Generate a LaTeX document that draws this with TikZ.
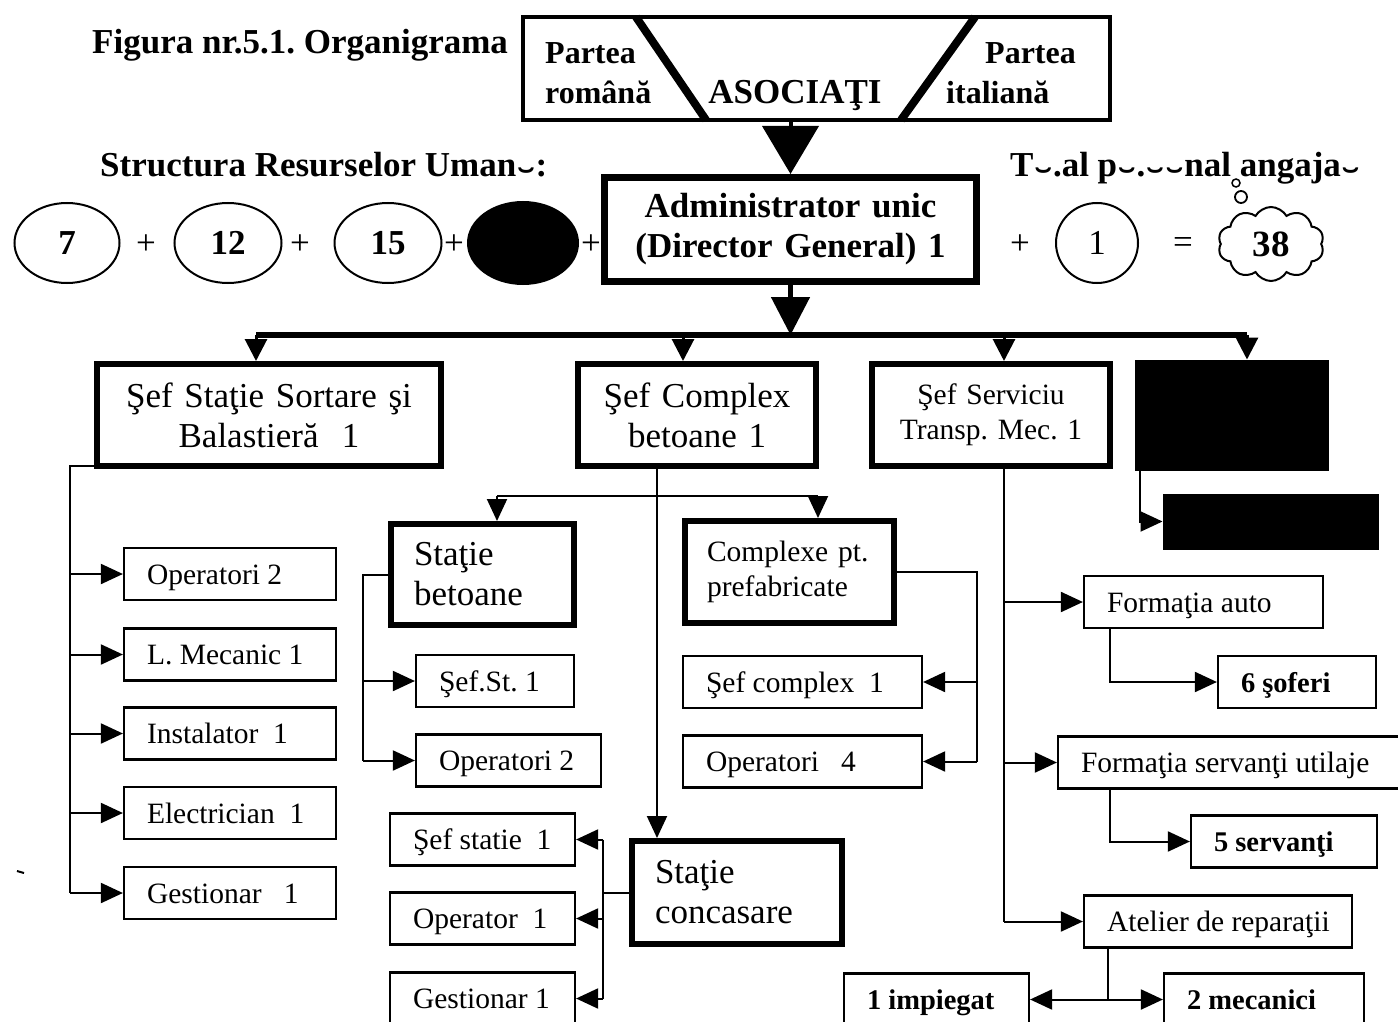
\documentclass[tikz,border=0pt]{standalone}
\usepackage{fontspec}
\usepackage{graphicx}
\setmainfont{Liberation Serif}
\usetikzlibrary{arrows.meta,shapes.geometric,shapes.symbols}
\newcommand{\FntBig}{\fontsize{35}{40}\selectfont}
\newcommand{\FntSml}{\fontsize{29.5}{35}\selectfont}
\newcommand{\FntBld}{\fontsize{28.5}{34}\selectfont\bfseries}
\newcommand{\lft}[2]{\makebox[#1][l]{#2}}
\newcommand{\brk}{\kern1pt\raisebox{-0.47em}{\scalebox{1.5}[1]{˘}}\kern1pt}
\frenchspacing
\begin{document}
\begin{tikzpicture}[x=1pt,y=-1pt,
  thinbox/.style={draw, line width=2.2pt, inner sep=0pt, minimum height=52pt,
                  text height=20pt, text depth=0pt, font=\FntSml},
  boldbox/.style={thinbox, font=\FntBld},
  thickbox/.style={draw, line width=6pt, inner sep=0pt, minimum height=102pt},
  blackbox/.style={draw, fill=black, line width=1pt, inner sep=0pt},
  conn/.style={line width=2pt},
  arr/.style={line width=2pt, -{Triangle[length=22pt,width=20pt]}},
  bararr/.style={line width=3pt, -{Triangle[length=22pt,width=22pt]}},
  oval/.style={draw, ellipse, line width=2pt, inner sep=0pt,
               minimum width=107pt, minimum height=80pt, font=\FntBig\bfseries},
  sign/.style={inner sep=0pt, font=\FntBig},
  head/.style={inner sep=0pt, font=\FntBig\bfseries, anchor=base west},
]
\useasboundingbox (0,0) rectangle (1398,1022);
\fill[white] (0,0) rectangle (1398,1022);
\clip (0,0) rectangle (1398,1022);

% ---------- headings ----------
\node[head] (title) at (92,54) {Figura nr.5.1. Organigrama};
\node[head] (struct) at (100,176) {Structura Resurselor Uman\brk:};
\node[head] (total) at (1010,176) {T\brk.al p\brk.\brk\brk nal angaja\brk};

% ---------- associates ----------
\node[draw, line width=4pt, minimum width=587pt, minimum height=103pt, inner sep=0pt] (asoc) at (816.5,68.5) {};
\draw[line width=8pt] (636,17) -- (706,120);
\draw[line width=8pt] (975,17) -- (901,120);
\node[inner sep=0pt, align=left, font=\fontsize{32}{40}\selectfont\bfseries, anchor=west] (ro) at (545,73) {Partea\\română};
\node[inner sep=0pt, align=left, font=\fontsize{32}{40}\selectfont\bfseries, anchor=west] (it) at (946,73) {\hspace*{39pt}Partea\\italiană};
\node[head, anchor=base] (asocT) at (795,104) {ASOCIAŢI};

% ---------- administrator ----------
\node[thickbox, line width=7pt, minimum width=372pt, minimum height=104pt, text width=340pt,
      align=center, font=\FntBig\bfseries] (admin) at (790.5,229.5)
      {Administrator unic\\(Director General) 1};
\draw[line width=4pt, -{Triangle[length=48pt,width=56pt]}] (admin.north |- asoc.south) -- (admin.north);

% ---------- staff summary ----------
\node[oval, minimum width=105pt] (e7) at (67,243) {7\hspace{22pt}};
\node[sign] (p1) at (146,245) {+};
\node[oval] (e12) at (228,243) {12\hspace{6pt}};
\node[sign] (p2) at (300,245) {+};
\node[oval] (e15) at (388,243) {15\hspace{4pt}};
\node[sign] (p3) at (454,245) {+};
\node[oval, fill=black, minimum width=110pt, minimum height=82pt] (eb) at (523,243) {};
\node[sign] (p4) at (591,245) {+};
\node[sign] (p5) at (1020,245) {+};
\node[oval, minimum width=82pt, minimum height=80pt, font=\FntBig] (e1) at (1097,243) {1};
\node[sign] (eq) at (1183,246) {=};
\node[draw, cloud, cloud puffs=10, cloud puff arc=120, aspect=1.4, line width=2pt, inner sep=0pt,
      minimum width=106pt, minimum height=74pt, font=\fontsize{37}{40}\selectfont\bfseries] (cl) at (1271,244) {38};
\node[draw, circle, line width=1.5pt, minimum size=8pt, inner sep=0pt] (b1) at (1236,183) {};
\node[draw, circle, line width=1.8pt, minimum size=12pt, inner sep=0pt] (b2) at (1241,197) {};

% ---------- second level ----------
\coordinate (barL) at (256,335);
\coordinate (barM) at (792,335);
\coordinate (barR) at (1247,335);
\node[thickbox, minimum width=344pt, text width=300pt, align=center, font=\FntBig] (A) at (269,415)
      {Şef Staţie Sortare şi\\Balastieră~ 1};
\node[thickbox, minimum width=238pt, text width=200pt, align=center, font=\FntBig] (B) at (697,415)
      {Şef Complex\\betoane 1};
\node[thickbox, minimum width=238pt, text width=210pt, align=center, font=\FntSml] (C) at (991,415)
      {Şef Serviciu\\Transp. Mec. 1};
\node[blackbox, minimum width=193pt, minimum height=110pt] (D) at (1231.5,415) {};
\node[blackbox, minimum width=215pt, minimum height=55pt] (E) at (1270.5,521.5) {};

\draw[line width=5pt, -{Triangle[length=38pt,width=38pt]}] (admin.south) -- (admin.south |- barM);
\draw[line width=6pt] (barL) -- (barR);
\draw[bararr] (barL) -- (barL |- A.north);
\draw[bararr] (barL -| 683,0) -- (B.north -| 683,0);
\draw[bararr] (barL -| 1004,0) -- (C.north -| 1004,0);
\draw[bararr] (barR) -- (barR |- D.north);

% ---------- sorting station staff ----------
\node[thinbox, minimum width=212pt] (L1) at (230,574) {\lft{166pt}{Operatori 2}};
\node[thinbox, minimum width=212pt] (L2) at (230,654.5) {\lft{166pt}{L. Mecanic 1}};
\node[thinbox, minimum width=212pt] (L3) at (230,733.5) {\lft{166pt}{Instalator~~1}};
\node[thinbox, minimum width=212pt] (L4) at (230,813) {\lft{166pt}{Electrician~~1}};
\node[thinbox, minimum width=212pt] (L5) at (230,893) {\lft{166pt}{Gestionar~~~1}};
\coordinate (aB) at (70,893);
\draw[conn] ([yshift=3pt]A.south west) -- ([yshift=3pt]A.south west -| aB) -- (aB);
\draw[arr] (aB |- L1.west) -- (L1.west);
\draw[arr] (aB |- L2.west) -- (L2.west);
\draw[arr] (aB |- L3.west) -- (L3.west);
\draw[arr] (aB |- L4.west) -- (L4.west);
\draw[arr] (aB) -- (L5.west);

% ---------- concrete complex ----------
\node[thickbox, minimum width=183pt, minimum height=101pt, text width=137pt, align=left, font=\FntBig] (SB) at (482.5,574.5)
      {Staţie\\betoane};
\node[thickbox, minimum width=209pt, text width=165pt, align=left, font=\FntSml] (CP) at (789.5,572)
      {Complexe pt.\\prefabricate};
\node[thickbox, minimum width=210pt, minimum height=103pt, text width=164pt, align=left, font=\FntBig] (SC) at (737,892.5)
      {Staţie\\concasare};
\coordinate (bL) at (497,496);
\coordinate (bX) at (657,496);
\coordinate (bR) at (818,496);
\draw[arr] (bX |- B.south) -- (bX |- SC.north);
\draw[conn] (bL) -- (bR);
\draw[arr] (bL) -- (bL |- SB.north);
\draw[arr] (bR) -- (bR |- CP.north);

\node[thinbox, minimum width=158pt] (SB1) at (495,681) {\lft{112pt}{Şef.St. 1}};
\node[thinbox, minimum width=185pt] (SB2) at (508.5,760.5) {\lft{139pt}{Operatori 2}};
\coordinate (sbB) at (363,760.5);
\draw[conn] (SB.west) -- (SB.west -| sbB) -- (sbB);
\draw[arr] (sbB |- SB1.west) -- (SB1.west);
\draw[arr] (sbB) -- (SB2.west);

\node[thinbox, minimum width=239pt] (CP1) at (802.5,682) {\lft{193pt}{Şef complex~~1}};
\node[thinbox, minimum width=239pt] (CP2) at (802.5,761.5) {\lft{193pt}{Operatori~~~4}};
\coordinate (cpB) at (977,761.5);
\draw[conn] (CP.east) -- (CP.east -| cpB) -- (cpB);
\draw[arr] (cpB |- CP1.east) -- (CP1.east);
\draw[arr] (cpB) -- (CP2.east);

\node[thinbox, minimum width=185pt] (SC1) at (482.5,839.5) {\lft{139pt}{Şef statie~~1}};
\node[thinbox, minimum width=185pt] (SC2) at (482.5,918.5) {\lft{139pt}{Operator~~1}};
\node[thinbox, minimum width=185pt] (SC3) at (482.5,998.5) {\lft{139pt}{Gestionar 1}};
\coordinate (scX) at (603,892.5);
\draw[conn] (SC.west) -- (scX);
\draw[conn] (scX |- SC1.east) -- (scX |- SC3.east);
\draw[arr] (scX |- SC1.east) -- (SC1.east);
\draw[arr] (scX |- SC2.east) -- (SC2.east);
\draw[arr] (scX |- SC3.east) -- (SC3.east);

% ---------- transport service ----------
\node[thinbox, minimum width=239pt] (FA) at (1203.5,602) {\lft{193pt}{Formaţia auto}};
\node[boldbox, minimum width=158pt] (FA1) at (1297,682) {\lft{112pt}{6 şoferi}};
\node[thinbox, minimum width=346pt] (FS) at (1231,762.5) {\lft{300pt}{Formaţia servanţi utilaje}};
\node[boldbox, minimum width=186pt] (FS1) at (1284,841.5) {\lft{140pt}{5 servanţi}};
\node[thinbox, minimum width=268pt] (AR) at (1218,921.5) {\lft{222pt}{Atelier de reparaţii}};
\node[boldbox, minimum width=185pt] (AR1) at (936.5,999.5) {\lft{139pt}{1 impiegat}};
\node[boldbox, minimum width=200pt] (AR2) at (1264,999.5) {\lft{154pt}{2 mecanici}};

\coordinate (cB) at (1004,921.5);
\draw[conn] (cB |- C.south) -- (cB);
\draw[arr] (cB |- FA.west) -- (FA.west);
\draw[arr] (cB |- FS.west) -- (FS.west);
\draw[arr] (cB) -- (AR.west);
\coordinate (faB) at (1110,682);
\draw[arr] (faB |- FA.south) -- (faB) -- (FA1.west);
\coordinate (fsB) at (1110,841.5);
\draw[arr] (fsB |- FS.south) -- (fsB) -- (FS1.west);
\coordinate (arB) at (1108,999.5);
\draw[conn] (arB |- AR.south) -- (arB);
\draw[arr] (arB) -- (AR1.east);
\draw[arr] (arB) -- (AR2.west);

% ---------- hidden department ----------
\coordinate (dE) at (1140,521.5);
\draw[arr] (dE |- D.south) -- (dE) -- (E.west);

% stray mark at the left margin
\draw[line width=2pt] (17,871) -- (24,873);
\end{tikzpicture}
\end{document}
